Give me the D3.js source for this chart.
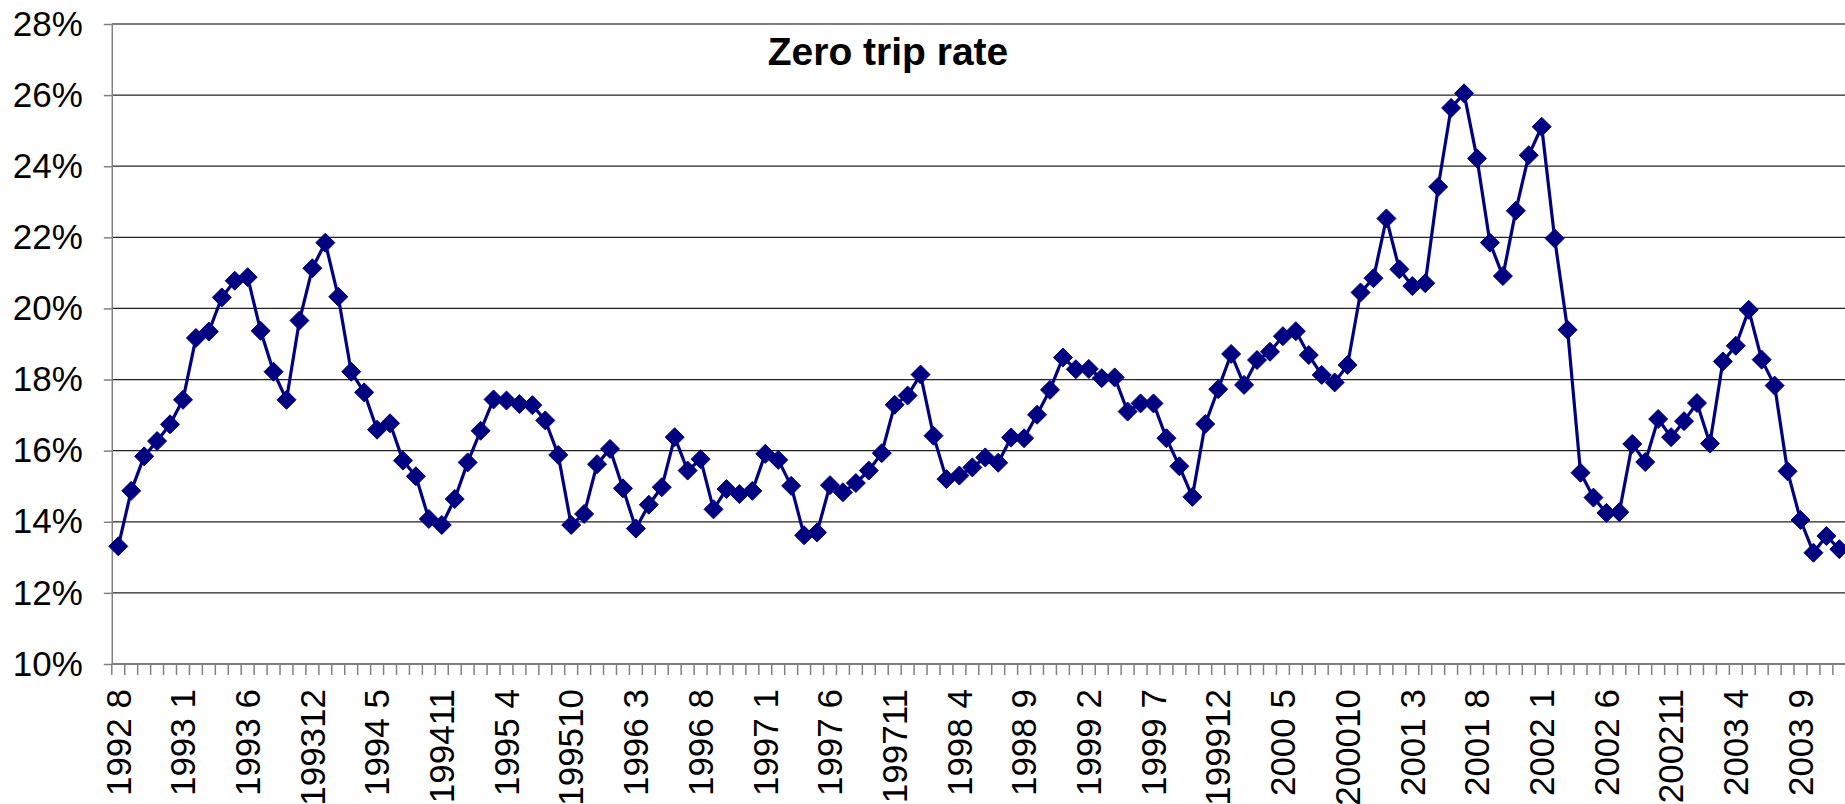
<!DOCTYPE html>
<html>
<head>
<meta charset="utf-8">
<script src="https://cdn.jsdelivr.net/npm/d3@7"></script>
<style>
  html, body { margin: 0; padding: 0; background: #fff; }
  svg { display: block; }
</style>
</head>
<body>
<div id="chart"></div>
<script>
// Zero trip rate, monthly (three months are absent from the series)
const categories = [
  '1992 8', '1992 9', '199210', '199211', '199212',
  '1993 1', '1993 2', '1993 3', '1993 4', '1993 5', '1993 6', '1993 7', '1993 8', '1993 9', '199311', '199312',
  '1994 1', '1994 2', '1994 3', '1994 4', '1994 5', '1994 6', '1994 7', '1994 9', '199410', '199411', '199412',
  '1995 1', '1995 2', '1995 3', '1995 4', '1995 5', '1995 6', '1995 8', '1995 9', '199510', '199511', '199512',
  '1996 1', '1996 2', '1996 3', '1996 4', '1996 5', '1996 6', '1996 7', '1996 8', '1996 9', '199610', '199611', '199612',
  '1997 1', '1997 2', '1997 3', '1997 4', '1997 5', '1997 6', '1997 7', '1997 8', '1997 9', '199710', '199711', '199712',
  '1998 1', '1998 2', '1998 3', '1998 4', '1998 5', '1998 6', '1998 7', '1998 8', '1998 9', '199810', '199811', '199812',
  '1999 1', '1999 2', '1999 3', '1999 4', '1999 5', '1999 6', '1999 7', '1999 8', '1999 9', '199910', '199911', '199912',
  '2000 1', '2000 2', '2000 3', '2000 4', '2000 5', '2000 6', '2000 7', '2000 8', '2000 9', '200010', '200011', '200012',
  '2001 1', '2001 2', '2001 3', '2001 4', '2001 5', '2001 6', '2001 7', '2001 8', '2001 9', '200110', '200111', '200112',
  '2002 1', '2002 2', '2002 3', '2002 4', '2002 5', '2002 6', '2002 7', '2002 8', '2002 9', '200210', '200211', '200212',
  '2003 1', '2003 2', '2003 3', '2003 4', '2003 5', '2003 6', '2003 7', '2003 8', '2003 9', '200310', '200311', '200312'
];

const zeroTripRate = [
  13.31, 14.87, 15.84, 16.27, 16.74,
  17.43, 19.17, 19.35, 20.31, 20.78, 20.88, 19.37, 18.22, 17.43, 19.66, 21.13,
  21.85, 20.33, 18.22, 17.64, 16.59, 16.77, 15.72, 15.28, 14.08, 13.91, 14.64,
  15.67, 16.56, 17.44, 17.41, 17.31, 17.28, 16.85, 15.88, 13.91, 14.22, 15.62,
  16.05, 14.94, 13.81, 14.48, 14.97, 16.38, 15.44, 15.76, 14.35, 14.92, 14.78, 14.87,
  15.91, 15.74, 15.01, 13.62, 13.70, 15.03, 14.83, 15.09, 15.44, 15.93, 17.29, 17.55,
  18.14, 16.42, 15.20, 15.30, 15.53, 15.81, 15.66, 16.37, 16.35, 17.01, 17.71, 18.62,
  18.29, 18.30, 18.04, 18.06, 17.10, 17.33, 17.33, 16.35, 15.56, 14.70, 16.75, 17.73,
  18.72, 17.85, 18.55, 18.78, 19.22, 19.36, 18.69, 18.13, 17.92, 18.41, 20.45, 20.85,
  22.53, 21.10, 20.63, 20.71, 23.42, 25.64, 26.05, 24.22, 21.85, 20.91, 22.75, 24.31,
  25.11, 21.97, 19.40, 15.38, 14.68, 14.25, 14.27, 16.19, 15.68, 16.89, 16.38, 16.83,
  17.34, 16.20, 18.51, 18.95, 19.96, 18.56, 17.83, 15.42, 14.05, 13.13, 13.60, 13.23
];

const yTicks = [10, 12, 14, 16, 18, 20, 22, 24, 26, 28];
const labelEvery = 5;
const title = 'Zero trip rate';

const width = 1845, height = 804;
const plot = { left: 111.8, right: 1845.8, top: 24, bottom: 664 };
const font = '"Liberation Sans", Arial, Helvetica, sans-serif';
const navy = '#000080';

const svg = d3.select('#chart').append('svg')
  .attr('width', width)
  .attr('height', height)
  .attr('viewBox', `0 0 ${width} ${height}`);

svg.append('rect').attr('width', width).attr('height', height).attr('fill', '#fff');

const x = d3.scaleBand()
  .domain(categories)
  .range([plot.left, plot.right])
  .padding(0);

const y = d3.scaleLinear()
  .domain([10, 28])
  .range([plot.bottom, plot.top]);

const cx = d => x(d) + x.bandwidth() / 2;

// Gridlines
svg.append('g')
  .selectAll('line')
  .data(yTicks.filter(t => t > 10 && t < 28))
  .join('line')
  .attr('x1', plot.left).attr('x2', width)
  .attr('y1', d => y(d)).attr('y2', d => y(d))
  .attr('stroke', '#222')
  .attr('stroke-width', 1.2);

// Top border of plot area
svg.append('line')
  .attr('x1', plot.left).attr('x2', width)
  .attr('y1', y(28)).attr('y2', y(28))
  .attr('stroke', '#808080')
  .attr('stroke-width', 2);

// Y axis
const yAxis = svg.append('g')
  .attr('transform', `translate(${plot.left},0)`)
  .call(d3.axisLeft(y).tickValues(yTicks).tickFormat(d => d + '%').tickSize(8).tickSizeOuter(0));
yAxis.select('.domain').attr('stroke', '#808080').attr('stroke-width', 1.5);
yAxis.selectAll('.tick line').attr('stroke', '#808080').attr('stroke-width', 1.5);
yAxis.selectAll('.tick text')
  .attr('x', -29)
  .attr('fill', '#000')
  .style('font-family', font)
  .style('font-size', '35px');

// X axis: tick marks on category boundaries, labels every 5th category
const xAxis = svg.append('g')
  .attr('transform', `translate(0,${plot.bottom})`)
  .call(d3.axisBottom(x)
    .tickValues(categories.filter((c, i) => i % labelEvery === 0))
    .tickSize(0)
    .tickSizeOuter(0));
xAxis.select('.domain').remove();
xAxis.selectAll('.tick text')
  .attr('transform', 'rotate(-90)')
  .attr('x', -25)
  .attr('y', 0)
  .attr('dy', '0.35em')
  .attr('text-anchor', 'end')
  .attr('fill', '#000')
  .style('font-family', font)
  .style('font-size', '35px');

xAxis.append('g')
  .selectAll('line')
  .data(categories.map(c => x(c)).concat([plot.right]))
  .join('line')
  .attr('x1', d => d).attr('x2', d => d)
  .attr('y1', 0).attr('y2', 11)
  .attr('stroke', '#808080')
  .attr('stroke-width', 1.5);

svg.append('line')
  .attr('x1', plot.left).attr('x2', width)
  .attr('y1', plot.bottom).attr('y2', plot.bottom)
  .attr('stroke', '#808080')
  .attr('stroke-width', 2);

// Series line
const line = d3.line()
  .x((d, i) => cx(categories[i]))
  .y(d => y(d));

svg.append('path')
  .datum(zeroTripRate)
  .attr('d', line)
  .attr('fill', 'none')
  .attr('stroke', navy)
  .attr('stroke-width', 3.2)
  .attr('stroke-linejoin', 'round');

// Diamond markers
const r = 9.5;
svg.append('g')
  .selectAll('path')
  .data(zeroTripRate)
  .join('path')
  .attr('transform', (d, i) => `translate(${cx(categories[i])},${y(d)})`)
  .attr('d', `M0,${-r}L${r},0L0,${r}L${-r},0Z`)
  .attr('fill', navy)
  .attr('stroke', navy)
  .attr('stroke-width', 1);

// Title
svg.append('text')
  .attr('x', 888)
  .attr('y', 65)
  .attr('text-anchor', 'middle')
  .attr('fill', '#000')
  .style('font-family', font)
  .style('font-weight', 'bold')
  .style('font-size', '39px')
  .text(title);
</script>
</body>
</html>
